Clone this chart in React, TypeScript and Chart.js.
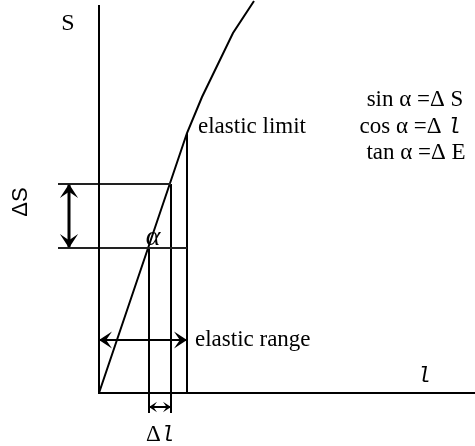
import React, { useEffect, useRef } from "react";
import { Chart, registerables } from "chart.js";

Chart.register(...registerables);

// Diagram units: origin at the corner of the axes (1 unit ≈ 1 px)
const curveX = [0, 88, 103, 134, 155];
const curveY = [0, 260, 296, 360, 392];

const axisX = [0, 0, 376];
const axisY = [388, 0, 0];

const upperLevelX = [-41, 72];
const upperLevelY = [209, 209];
const lowerLevelX = [-41, 88];
const lowerLevelY = [145, 145];

const dropAX = [50, 50];
const dropAY = [145, -20];
const dropBX = [72, 72];
const dropBY = [209, -20];
const limitDropX = [88, 88];
const limitDropY = [260, 0];

const deltaSArrowX = [-30, -30];
const deltaSArrowY = [209, 145];
const rangeArrowX = [0, 88];
const rangeArrowY = [53, 53];
const deltaLArrowX = [50, 72];
const deltaLArrowY = [-14, -14];

const SERIF = "'Liberation Serif', 'Times New Roman', serif";
const SANS = "'Liberation Sans', Arial, sans-serif";
const MONO = "'Liberation Mono', 'Courier New', monospace";

type Part = { text: string; font: string; slant?: boolean };
type Label = { parts: Part[]; x: number; y: number; align: "left" | "center"; rotate?: number };

const labels: Label[] = [
  { parts: [{ text: "S", font: `24px ${SERIF}` }], x: -31, y: 369, align: "center" },
  { parts: [{ text: "ΔS", font: `22px ${SANS}` }], x: -78, y: 191, align: "center", rotate: -90 },
  { parts: [{ text: "α", font: `italic 28px ${SERIF}` }], x: 54, y: 155, align: "center" },
  { parts: [{ text: "elastic limit", font: `23px ${SERIF}` }], x: 99, y: 266, align: "left" },
  { parts: [{ text: "elastic range", font: `23px ${SERIF}` }], x: 96, y: 53, align: "left" },
  { parts: [{ text: "sin α =Δ S", font: `23px ${SERIF}` }], x: 316, y: 293, align: "center" },
  {
    parts: [
      { text: "cos α =Δ ", font: `23px ${SERIF}` },
      { text: "l", font: `22px ${MONO}`, slant: true },
    ],
    x: 311,
    y: 266,
    align: "center",
  },
  { parts: [{ text: "tan α =Δ E", font: `23px ${SERIF}` }], x: 317, y: 240, align: "center" },
  { parts: [{ text: "l", font: `22px ${MONO}`, slant: true }], x: 325, y: 17, align: "center" },
  {
    parts: [
      { text: "Δ", font: `23px ${SERIF}` },
      { text: "l", font: `22px ${MONO}`, slant: true },
    ],
    x: 61,
    y: -42,
    align: "center",
  },
];

const pts = (xs: number[], ys: number[]) => xs.map((x, i) => ({ x, y: ys[i] }));

const labelPlugin = {
  id: "diagramLabels",
  afterDatasetsDraw(chart: any) {
    const { ctx, scales } = chart;
    ctx.save();
    ctx.fillStyle = "#000";
    ctx.textBaseline = "middle";
    labels.forEach((lab) => {
      const px = scales.x.getPixelForValue(lab.x);
      const py = scales.y.getPixelForValue(lab.y);
      let total = 0;
      const widths = lab.parts.map((p) => {
        ctx.font = p.font;
        const w = ctx.measureText(p.text).width;
        total += w;
        return w;
      });
      ctx.save();
      ctx.translate(px, py);
      if (lab.rotate) ctx.rotate((lab.rotate * Math.PI) / 180);
      let cx = lab.align === "center" ? -total / 2 : 0;
      ctx.textAlign = "left";
      lab.parts.forEach((p, i) => {
        ctx.font = p.font;
        if (p.slant) {
          ctx.save();
          ctx.translate(cx, 0);
          ctx.transform(1, 0, -0.18, 1, 0, 0);
          ctx.fillText(p.text, 0, 0);
          ctx.restore();
        } else {
          ctx.fillText(p.text, cx, 0);
        }
        cx += widths[i];
      });
      ctx.restore();
    });
    ctx.restore();
  },
};

const arrowPlugin = {
  id: "arrowHeads",
  afterDatasetsDraw(chart: any) {
    const { ctx } = chart;
    chart.data.datasets.forEach((ds: any, i: number) => {
      if (!ds.arrowSize) return;
      const meta = chart.getDatasetMeta(i);
      const a = meta.data[0];
      const b = meta.data[meta.data.length - 1];
      const head = (tipX: number, tipY: number, fromX: number, fromY: number) => {
        const ang = Math.atan2(tipY - fromY, tipX - fromX);
        const L = ds.arrowSize;
        const W = ds.arrowSize * 0.65;
        ctx.save();
        ctx.translate(tipX, tipY);
        ctx.rotate(ang);
        ctx.beginPath();
        ctx.moveTo(0, 0);
        ctx.lineTo(-L, -W);
        ctx.lineTo(-L * 0.55, 0);
        ctx.lineTo(-L, W);
        ctx.closePath();
        ctx.fillStyle = "#000";
        ctx.fill();
        ctx.restore();
      };
      head(a.x, a.y, b.x, b.y);
      head(b.x, b.y, a.x, a.y);
    });
  },
};

export default function App() {
  const ref = useRef<HTMLCanvasElement | null>(null);
  useEffect(() => {
    if (!ref.current) return;
    const line = (xs: number[], ys: number[], width = 2, color = "#000", extra: any = {}) => ({
      data: pts(xs, ys),
      showLine: true,
      borderColor: color,
      borderWidth: width,
      pointRadius: 0,
      fill: false,
      tension: 0,
      ...extra,
    });
    const chart = new Chart(ref.current, {
      type: "scatter",
      data: {
        datasets: [
          line(axisX, axisY, 2),
          line(upperLevelX, upperLevelY, 2, "#222"),
          line(lowerLevelX, lowerLevelY, 2, "#222"),
          line(dropAX, dropAY, 2),
          line(dropBX, dropBY, 2),
          line(limitDropX, limitDropY, 2),
          line(curveX, curveY, 2),
          line(deltaSArrowX, deltaSArrowY, 3, "#000", { arrowSize: 14 }),
          line(rangeArrowX, rangeArrowY, 2, "#000", { arrowSize: 13 }),
          line(deltaLArrowX, deltaLArrowY, 2, "#000", { arrowSize: 8 }),
        ] as any,
      },
      options: {
        animation: false,
        responsive: false,
        layout: { padding: 0 },
        plugins: { legend: { display: false }, tooltip: { enabled: false } },
        scales: {
          x: { type: "linear", min: -99, max: 376, display: false },
          y: { type: "linear", min: -53, max: 393, display: false },
        },
        events: [],
      },
      plugins: [labelPlugin, arrowPlugin],
    });
    return () => chart.destroy();
  }, []);
  return (
    <div style={{ position: "fixed", left: 0, top: 0, width: 475, height: 446, background: "#fff" }}>
      <canvas ref={ref} width={475} height={446} />
    </div>
  );
}
